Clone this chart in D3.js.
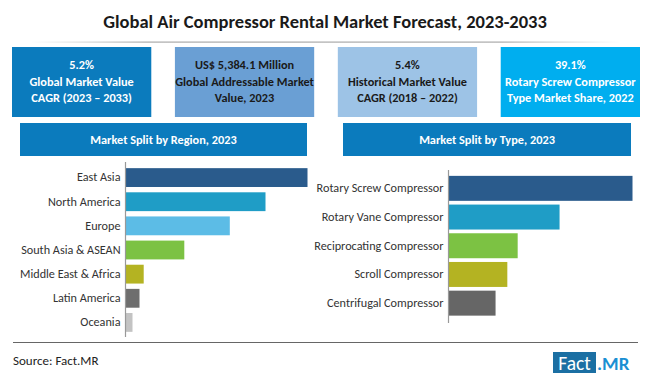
<!DOCTYPE html>
<html><head><meta charset="utf-8">
<script src="https://cdn.jsdelivr.net/npm/d3@7"></script>
<style>
html,body{margin:0;padding:0;background:#fff;}
svg{display:block;font-family:Calibri,Carlito,"Open Sans","Noto Sans",sans-serif;}
</style></head>
<body>
<svg id="c" width="650" height="377"></svg>
<script>
const titleText = "Global Air Compressor Rental Market Forecast, 2023-2033";
const statLines = [
  ["5.2%", "Global Market Value", "CAGR (2023 – 2033)"],
  ["US$ 5,384.1 Million", "Global Addressable Market", "Value, 2023"],
  ["5.4%", "Historical Market Value", "CAGR (2018 – 2022)"],
  ["39.1%", "Rotary Screw Compressor", "Type Market Share, 2022"]
];
const statFills = ["#0b7bbd", "#6a9fd4", "#9dc3e6", "#00aeef"];
const statText = ["#ffffff", "#1a1a1a", "#1a1a1a", "#ffffff"];

const regionTitle = "Market Split by Region, 2023";
const regions = ["East Asia","North America","Europe","South Asia & ASEAN","Middle East & Africa","Latin America","Oceania"];
const regionValues = [26.0, 20.0, 14.9, 8.4, 2.6, 2.0, 1.0];
const regionColors = ["#2a5b8c","#1f9dc6","#5cbce6","#7cc243","#b4b322","#6e6e6e","#c3c3c3"];

const typeTitle = "Market Split by Type, 2023";
const types = ["Rotary Screw Compressor","Rotary Vane Compressor","Reciprocating Compressor","Scroll Compressor","Centrifugal Compressor"];
const typeValues = [39.1, 23.6, 14.7, 12.5, 10.0];
const typeColors = ["#2a5b8c","#1f9dc6","#7cc243","#b4b322","#666666"];

const sourceText = "Source: Fact.MR";

const svg = d3.select("#c");

// Title
svg.append("text").attr("x", 325).attr("y", 28).attr("text-anchor","middle")
  .attr("font-size", 18.5).attr("font-weight","bold").attr("fill","#1a1a1a").text(titleText);
const grad = svg.append("defs").append("linearGradient").attr("id","tl");
grad.append("stop").attr("offset","0%").attr("stop-color","#bbb").attr("stop-opacity",0);
grad.append("stop").attr("offset","20%").attr("stop-color","#aaa").attr("stop-opacity",1);
grad.append("stop").attr("offset","80%").attr("stop-color","#aaa").attr("stop-opacity",1);
grad.append("stop").attr("offset","100%").attr("stop-color","#bbb").attr("stop-opacity",0);
svg.append("rect").attr("x", 30).attr("y", 41.5).attr("width", 590).attr("height", 1.2).attr("fill","url(#tl)");

// Stat boxes
const bx = d3.scaleBand().domain(d3.range(4)).range([12, 640]).paddingInner(0.145);
statLines.forEach((lines, i) => {
  const g = svg.append("g");
  g.append("rect").attr("x", bx(i)).attr("y", 47).attr("width", bx.bandwidth()).attr("height", 70).attr("fill", statFills[i]);
  lines.forEach((t, j) => {
    g.append("text").attr("x", bx(i) + bx.bandwidth()/2).attr("y", 69 + j*16.5)
      .attr("text-anchor","middle").attr("font-size", 12.3).attr("font-weight","bold")
      .attr("fill", statText[i]).text(t);
  });
});

// Section headers
function header(x0, x1, t) {
  svg.append("rect").attr("x", x0).attr("y", 123).attr("width", x1-x0).attr("height", 33).attr("fill","#0b7bbd");
  svg.append("text").attr("x",(x0+x1)/2).attr("y",143.5).attr("text-anchor","middle")
    .attr("font-size",12.3).attr("font-weight","bold").attr("fill","#fff").text(t);
}
header(20, 307, regionTitle);
header(343, 631, typeTitle);

// Bar chart helper
function barChart(cats, vals, cols, x0, maxW, maxV, yr, padding, axisY) {
  const y = d3.scaleBand().domain(cats).range(yr).paddingInner(padding).paddingOuter(padding/2);
  const x = d3.scaleLinear().domain([0, maxV]).range([x0, x0 + maxW]);
  const g = svg.append("g");
  g.selectAll("rect").data(cats).join("rect")
    .attr("x", x(0)).attr("y", d => y(d))
    .attr("width", (d,i) => x(vals[i]) - x(0)).attr("height", y.bandwidth())
    .attr("fill", (d,i) => cols[i]);
  const ax = g.append("g").attr("transform", `translate(${x0},0)`)
    .call(d3.axisLeft(y).tickSize(0).tickPadding(5));
  ax.select(".domain").remove();
  ax.selectAll("text").attr("font-size", 12.2).attr("fill","#333").style("font-family","Calibri,Carlito,'Open Sans',sans-serif");
  g.append("line").attr("x1", x0).attr("x2", x0).attr("y1", axisY[0]).attr("y2", axisY[1])
    .attr("stroke","#999").attr("stroke-width",1.2);
}
barChart(regions, regionValues, regionColors, 125.5, 182, 26.0, [165.5, 334.5], 0.22, [162, 337]);
barChart(types, typeValues, typeColors, 448.5, 184, 39.1, [174, 317.5], 0.13, [170, 323]);

// Footer
svg.append("line").attr("x1", 13).attr("x2", 638).attr("y1", 342.5).attr("y2", 342.5).attr("stroke","#666").attr("stroke-width",1);
svg.append("text").attr("x", 13).attr("y", 365).attr("font-size", 13).attr("fill","#222").text(sourceText);
svg.append("rect").attr("x", 553).attr("y", 352).attr("width", 43).attr("height", 21).attr("fill","#1b6fa3");
svg.append("text").attr("x", 574.5).attr("y", 369.5).attr("text-anchor","middle").attr("font-size", 19.5).attr("fill","#fff").text("Fact");
svg.append("text").attr("x", 597).attr("y", 369.5).attr("font-size", 19).attr("font-weight","bold").attr("fill","#1a8fd3").text(".MR");
</script>
</body></html>
